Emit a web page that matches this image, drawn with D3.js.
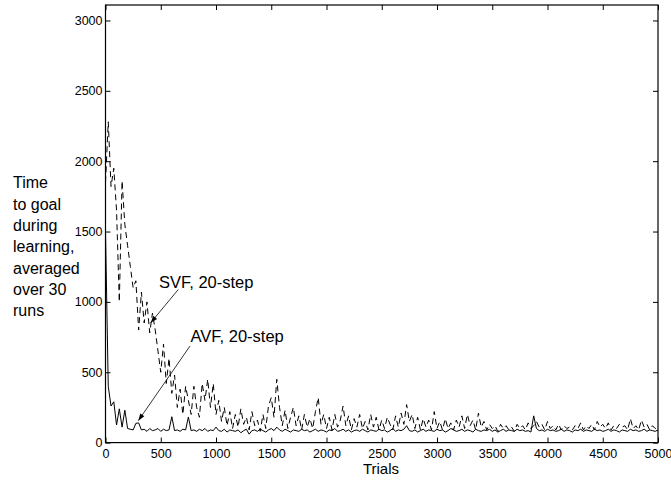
<!DOCTYPE html>
<meta charset="utf-8">
<style>
	body { margin: 0; background: #fff; }
	text { font-family: "Liberation Sans", Arial, sans-serif; fill: #000; }
	.tick line { stroke: #000; }
	.series { fill: none; stroke: #000; stroke-width: 1; stroke-linejoin: round; }
</style>
<body>
<script src="https://d3js.org/d3.v7.min.js"></script>
<script>
// trials sampled every 25
var trials = d3.range(0, 5001, 25);

// SVF, 20-step (dashed)
var svf = [
	1850, 2280, 1820, 1950, 1650, 1000, 1860, 1550, 1400, 1250, 1100, 1150, 800, 1070, 850, 1000, 780, 920, 800, 650,
	500, 700, 420, 600, 350, 480, 250, 380, 200, 400, 300, 200, 400, 250, 180, 420, 300, 450, 250, 420,
	200, 300, 150, 250, 120, 220, 100, 200, 110, 240, 130, 180, 90, 220, 120, 160, 80, 200, 100, 260,
	320, 180, 450, 250, 120, 230, 100, 180, 250, 120, 190, 90, 200, 110, 170, 100, 220, 320, 130, 200,
	100, 180, 90, 200, 110, 160, 260, 120, 190, 90, 170, 110, 200, 100, 150, 90, 200, 110, 180, 90,
	160, 100, 180, 130, 90, 190, 110, 210, 130, 270, 150, 200, 100, 180, 90, 170, 110, 160, 90, 220,
	100, 150, 90, 170, 100, 140, 90, 160, 110, 190, 100, 200, 120, 160, 90, 210, 110, 150, 90, 130,
	100, 120, 80, 130, 100, 120, 90, 110, 80, 130, 100, 120, 90, 140, 100, 120, 150, 110, 130, 90,
	150, 100, 120, 90, 130, 90, 120, 100, 110, 90, 120, 100, 140, 90, 120, 100, 130, 90, 150, 110,
	130, 100, 140, 90, 120, 100, 130, 110, 120, 90, 170, 100, 120, 90, 160, 110, 130, 90, 120, 100,
	110
];

// AVF, 20-step (solid)
var avf = [
	1500, 400, 260, 290, 125, 240, 110, 230, 100, 95, 90, 137, 140, 90, 95, 80, 100, 85, 90, 100,
	80, 95, 85, 90, 184, 85, 90, 80, 95, 90, 182, 85, 90, 80, 95, 85, 100, 80, 90, 85,
	110, 85, 80, 95, 75, 90, 85, 80, 90, 70, 85, 95, 60, 85, 90, 80, 95, 85, 75, 90,
	100, 85, 110, 90, 80, 95, 85, 75, 90, 85, 80, 95, 85, 90, 75, 85, 95, 80, 90, 85,
	75, 90, 85, 100, 80, 85, 95, 80, 90, 75, 85, 90, 80, 95, 85, 75, 90, 85, 80, 95,
	85, 90, 75, 85, 100, 80, 90, 85, 95, 120, 85, 80, 90, 75, 85, 95, 80, 90, 85, 80,
	95, 85, 90, 75, 85, 100, 90, 80, 85, 95, 80, 90, 85, 75, 95, 85, 80, 90, 85, 95,
	80, 90, 75, 85, 95, 80, 90, 85, 80, 95, 85, 90, 80, 85, 75, 190, 100, 85, 90, 80,
	95, 85, 90, 80, 85, 95, 80, 90, 85, 75, 90, 85, 95, 80, 90, 85, 80, 95, 85, 90,
	80, 85, 95, 80, 90, 85, 75, 90, 85, 80, 95, 85, 90, 80, 85, 95, 80, 90, 85, 80,
	90
];

var xTicks = [0, 500, 1000, 1500, 2000, 2500, 3000, 3500, 4000, 4500, 5000];
var yTicks = [0, 500, 1000, 1500, 2000, 2500, 3000];
var yLabelLines = ["Time", "to goal", "during", "learning,", "averaged", "over 30", "runs"];

var W = 671, H = 485,
	L = 105.5, R = 658, T = 5, B = 442.6;

var svg = d3.select("body").append("svg")
	.attr("width", W).attr("height", H);
svg.append("rect").attr("width", W).attr("height", H).attr("fill", "#fff");

var x = d3.scaleLinear().domain([0, 5000]).range([L, R]),
	y = d3.scaleLinear().domain([0, 3110]).range([B, T]);

svg.append("clipPath").attr("id", "clip")
	.append("rect").attr("x", L).attr("y", T).attr("width", R - L).attr("height", B - T);

var line = d3.line()
	.x(function(d, i) { return x(trials[i]); })
	.y(function(d) { return y(d); });

var g = svg.append("g").attr("clip-path", "url(#clip)");
g.append("path").datum(svf).attr("class", "series")
	.attr("stroke-dasharray", "6,4").attr("d", line);
g.append("path").datum(avf).attr("class", "series").attr("d", line);

// axes, ticks pointing inward
var fs = "12.5px";
var ax = svg.append("g").attr("transform", "translate(0," + B + ")")
	.call(d3.axisBottom(x).tickValues(xTicks).tickSize(-5).tickPadding(7).tickFormat(d3.format("d")));
var ay = svg.append("g").attr("transform", "translate(" + L + ",0)")
	.call(d3.axisLeft(y).tickValues(yTicks).tickSize(-5).tickPadding(3).tickFormat(d3.format("d")));
svg.append("g").attr("transform", "translate(0," + T + ")")
	.call(d3.axisTop(x).tickValues(xTicks).tickSize(-5).tickFormat(""));
svg.append("g").attr("transform", "translate(" + R + ",0)")
	.call(d3.axisRight(y).tickValues(yTicks).tickSize(-5).tickFormat(""));
svg.selectAll(".domain").remove();
svg.selectAll(".tick text").style("font-size", fs).style("font-family", '"Liberation Sans", Arial, sans-serif');

svg.append("rect").attr("x", L).attr("y", T).attr("width", R - L).attr("height", B - T)
	.attr("fill", "none").attr("stroke", "#000").attr("stroke-width", 1.2);

svg.append("text").attr("x", 381).attr("y", 474).attr("text-anchor", "middle")
	.style("font-size", "15px").text("Trials");

var yl = svg.append("text").attr("x", 13).attr("y", 188.3).style("font-size", "16px");
yl.selectAll("tspan").data(yLabelLines).enter().append("tspan")
	.attr("x", 13).attr("dy", function(d, i) { return i ? 21.3 : 0; })
	.text(function(d) { return d; });

// annotations
function arrow(x1, y1, x2, y2) {
	svg.append("line").attr("x1", x1).attr("y1", y1).attr("x2", x2).attr("y2", y2)
		.attr("stroke", "#000").attr("stroke-width", 0.8);
	var a = Math.atan2(y2 - y1, x2 - x1), len = 7, w = 2.5;
	var bx = x2 - len * Math.cos(a), by = y2 - len * Math.sin(a);
	var pts = [[x2, y2],
		[bx + w * Math.sin(a), by - w * Math.cos(a)],
		[bx - w * Math.sin(a), by + w * Math.cos(a)]];
	svg.append("path").attr("d", "M" + pts.join("L") + "Z").attr("fill", "#000");
}
svg.append("text").attr("x", 159).attr("y", 287.5).style("font-size", "16.5px").text("SVF, 20-step");
arrow(178.3, 289.5, 150.7, 322.7);
svg.append("text").attr("x", 190.5).attr("y", 341.5).style("font-size", "16.5px").text("AVF, 20-step");
arrow(190, 346, 138.3, 420.7);
</script>
